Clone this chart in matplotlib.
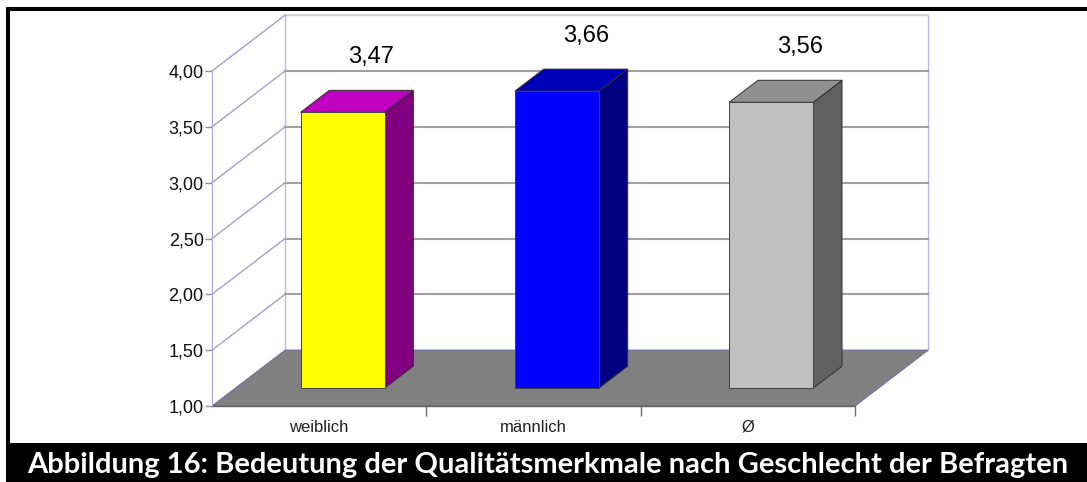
import matplotlib.pyplot as plt
from matplotlib.patches import Polygon, Rectangle

# data
categories = ["weiblich", "männlich", "Ø"]
values = [3.47, 3.66, 3.56]
value_labels = ["3,47", "3,66", "3,56"]
y_ticks = [1.0, 1.5, 2.0, 2.5, 3.0, 3.5, 4.0]
y_tick_labels = ["1,00", "1,50", "2,00", "2,50", "3,00", "3,50", "4,00"]
caption = "Abbildung 16: Bedeutung der Qualitätsmerkmale nach Geschlecht der Befragten"

# colours per bar: front, side, top
front_colors = ["#FFFF00", "#0000FF", "#C0C0C0"]
side_colors = ["#800080", "#000080", "#606060"]
top_colors = ["#C000C0", "#0000B8", "#909090"]

# oblique 3d look (data units per unit of depth)
DX = 0.341
DY = 0.5
BAR_D0 = 0.32
BAR_D1 = 0.714
BAR_HALF = 0.196
YMIN = 1.0

W, H = 1087, 482
plt.rcParams["font.family"] = ["Liberation Sans", "DejaVu Sans"]


def px(x0, y0, x1, y1):
    # pixel box (top-left origin) -> figure fraction
    return [x0 / W, 1 - y1 / H, (x1 - x0) / W, (y1 - y0) / H]


def shift(x, y, d):
    return x + DX * d, y + DY * d


def draw_walls(ax, n):
    top = y_ticks[-1]
    # back wall
    wall = [shift(0, YMIN, 1), shift(n, YMIN, 1), shift(n, top, 1), shift(0, top, 1)]
    ax.add_patch(Polygon(wall, closed=True, facecolor="white", edgecolor="#b8b8e8",
                         lw=1.0, clip_on=False, zorder=1))
    # gridlines on back wall + slanted lines on side wall
    for t in y_ticks[1:]:
        x0, y0 = shift(0, t, 1)
        x1, y1 = shift(n, t, 1)
        col = "#d4d4d4" if t == top else "#a0a0a0"
        ax.plot([x0, x1], [y0, y1], color=col, lw=1.5, clip_on=False, zorder=2)
        ax.plot([0, x0], [t, y0], color="#a0a0c8", lw=1.0, clip_on=False, zorder=2)
    # floor
    floor = [(0, YMIN), (n, YMIN), shift(n, YMIN, 1), shift(0, YMIN, 1)]
    ax.add_patch(Polygon(floor, closed=True, facecolor="#808080", edgecolor="#7070a0",
                         lw=0.8, clip_on=False, zorder=3))
    ax.plot([0, n], [YMIN, YMIN], color="#606060", lw=1.0, clip_on=False, zorder=4)


def draw_bar(ax, i, v, fc, sc, tc):
    c = i + 0.5
    xl0, yb0 = shift(c - BAR_HALF, YMIN, BAR_D0)
    xr0, yt0 = shift(c + BAR_HALF, v, BAR_D0)
    xl1, yb1 = shift(c - BAR_HALF, YMIN, BAR_D1)
    xr1, yt1 = shift(c + BAR_HALF, v, BAR_D1)
    kw = dict(closed=True, clip_on=False, zorder=5, lw=0.7)
    ax.add_patch(Polygon([(xr0, yb0), (xr0, yt0), (xr1, yt1), (xr1, yb1)],
                         facecolor=sc, edgecolor="#303030", **kw))
    ax.add_patch(Polygon([(xl0, yt0), (xr0, yt0), (xr1, yt1), (xl1, yt1)],
                         facecolor=tc, edgecolor="#303030", **kw))
    ax.add_patch(Polygon([(xl0, yb0), (xr0, yb0), (xr0, yt0), (xl0, yt0)],
                         facecolor=fc, edgecolor="#404040", **kw))
    lx, ly = shift(c, v, BAR_D1)
    return lx, ly


def main():
    fig = plt.figure(figsize=(W / 100, H / 100), dpi=100)

    # frame + caption bar
    fig.patches.append(Rectangle((6 / W, 1 - 11 / H), 1, 4 / H, transform=fig.transFigure,
                                 facecolor="black", edgecolor="none"))
    fig.patches.append(Rectangle((6 / W, 0), 4 / W, 1 - 7 / H, transform=fig.transFigure,
                                 facecolor="black", edgecolor="none"))
    fig.patches.append(Rectangle((6 / W, 0), 1, 39 / H, transform=fig.transFigure,
                                 facecolor="black", edgecolor="none"))

    n = len(categories)
    ax = fig.add_axes(px(212, 71, 855, 406))
    ax.set_xlim(0, n)
    ax.set_ylim(YMIN, y_ticks[-1])
    ax.patch.set_visible(False)
    for s in ["top", "right", "bottom"]:
        ax.spines[s].set_visible(False)
    ax.spines["left"].set_color("#a8a8e0")
    ax.spines["left"].set_zorder(6)

    ax.set_yticks(y_ticks)
    ax.set_yticklabels(y_tick_labels, fontsize=13, color="#101010")
    ax.tick_params(axis="y", length=5, width=1, color="#909090", pad=1)

    ax.set_xticks(range(1, n + 1))
    ax.set_xticklabels([])
    ax.tick_params(axis="x", which="major", length=7, width=1, color="#707070")
    ax.set_xticks([i + 0.5 for i in range(n)], minor=True)
    ax.set_xticklabels(categories, minor=True, fontsize=12, color="#202020")
    ax.tick_params(axis="x", which="minor", length=0, pad=10)

    draw_walls(ax, n)
    for i, v in enumerate(values):
        lx, ly = draw_bar(ax, i, v, front_colors[i], side_colors[i], top_colors[i])
        ax.text(lx, ly + 0.3, value_labels[i], fontsize=17, ha="center", va="center",
                color="black", clip_on=False, zorder=7)

    # caption, scaled to the width of the bar
    t = fig.text(548 / W, 9 / H, caption, color="white", fontsize=18, fontweight="bold",
                 family=["Lato", "DejaVu Sans"], ha="center", va="baseline")
    fig.canvas.draw()
    w = t.get_window_extent().width
    t.set_fontsize(18 * 1043 / w)

    plt.savefig("out.png", dpi=100)


if __name__ == "__main__":
    main()
